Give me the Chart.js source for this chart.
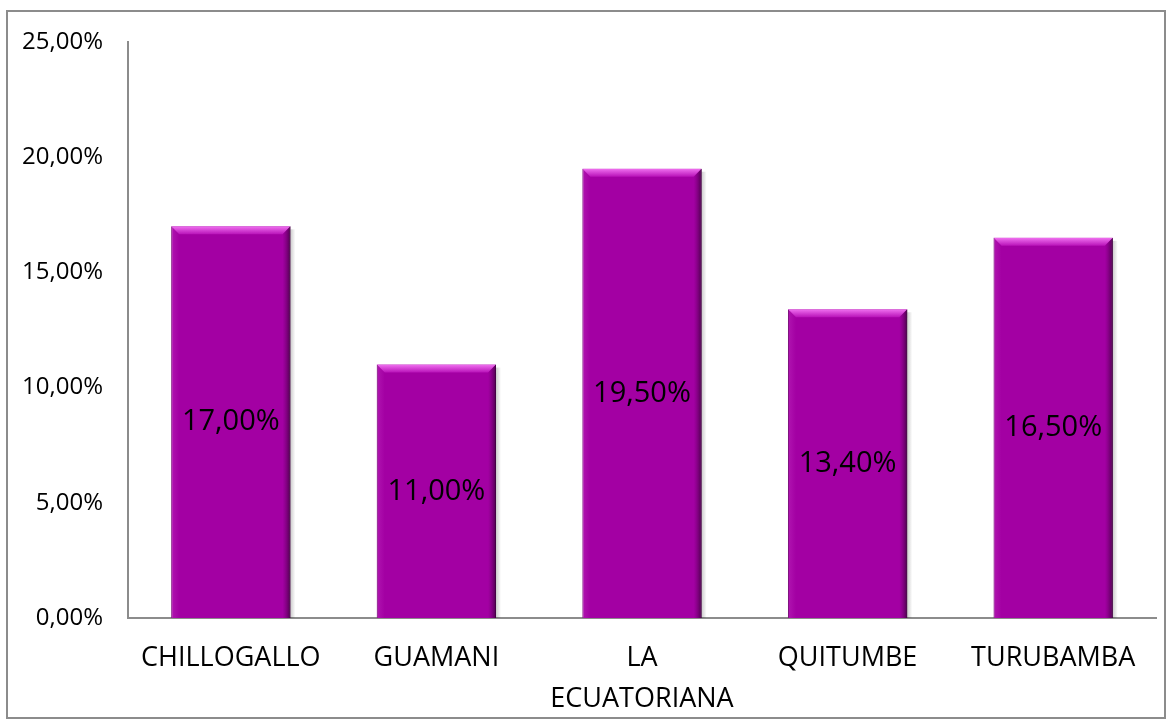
<!DOCTYPE html>
<html>
<head>
<meta charset="utf-8">
<script src="https://cdn.jsdelivr.net/npm/chart.js@4/dist/chart.umd.min.js"></script>
<style>
  html, body { margin: 0; padding: 0; background: #fff; }
  #wrap { width: 1172px; height: 728px; }
</style>
</head>
<body>
<div id="wrap"><canvas id="grafico"></canvas></div>
<script>
// datos del grafico
var categorias = ['CHILLOGALLO', 'GUAMANI', ['LA', 'ECUATORIANA'], 'QUITUMBE', 'TURUBAMBA'];
var porcentajes = [17.00, 11.00, 19.50, 13.40, 16.50];
var marcasY = [0, 5, 10, 15, 20, 25];

function formatoPct(v) {
    return v.toFixed(2).replace('.', ',') + '%';
}

// marco gris alrededor del grafico
var marco = {
    id: 'marco',
    beforeDraw: function (chart) {
        var c = chart.ctx;
        c.save();
        c.fillStyle = '#fff';
        c.fillRect(0, 0, chart.width, chart.height);
        c.strokeStyle = '#8c8c8c';
        c.lineWidth = 2;
        c.strokeRect(7, 11, chart.width - 14, chart.height - 21);
        c.restore();
    }
};

// biselado de las barras + etiquetas de valor
var bisel = {
    id: 'bisel',
    afterDatasetsDraw: function (chart) {
        var c = chart.ctx;
        var meta = chart.getDatasetMeta(0);
        meta.data.forEach(function (bar, i) {
            var p = bar.getProps(['x', 'y', 'base', 'width'], true);
            var l = p.x - p.width / 2, r = p.x + p.width / 2, t = p.y, b = p.base;
            var e = 8;
            c.save();
            // borde superior claro
            var g = c.createLinearGradient(0, t, 0, t + e);
            g.addColorStop(0, '#f070f0');
            g.addColorStop(1, '#b812b8');
            c.fillStyle = g;
            c.beginPath();
            c.moveTo(l, t); c.lineTo(r, t); c.lineTo(r - e, t + e); c.lineTo(l + e, t + e);
            c.closePath(); c.fill();
            // lado izquierdo, apenas mas claro
            var g1 = c.createLinearGradient(l, 0, l + e, 0);
            g1.addColorStop(0, 'rgba(200,60,200,0.35)');
            g1.addColorStop(1, 'rgba(200,60,200,0)');
            c.fillStyle = g1;
            c.beginPath();
            c.moveTo(l, t); c.lineTo(l + e, t + e); c.lineTo(l + e, b); c.lineTo(l, b);
            c.closePath(); c.fill();
            // lado derecho oscuro
            var g2 = c.createLinearGradient(r - e, 0, r, 0);
            g2.addColorStop(0, 'rgba(110,0,110,0)');
            g2.addColorStop(1, 'rgba(60,0,60,0.85)');
            c.fillStyle = g2;
            c.beginPath();
            c.moveTo(r, t); c.lineTo(r, b); c.lineTo(r - e, b); c.lineTo(r - e, t + e);
            c.closePath(); c.fill();
            // sombra a la derecha
            var g3 = c.createLinearGradient(r, 0, r + 5, 0);
            g3.addColorStop(0, 'rgba(0,0,0,0.2)');
            g3.addColorStop(1, 'rgba(0,0,0,0)');
            c.fillStyle = g3;
            c.fillRect(r, t + 3, 5, b - t - 3);
            // etiqueta
            c.fillStyle = '#000';
            c.font = '29px "Open Sans"';
            c.textAlign = 'center';
            c.textBaseline = 'middle';
            c.fillText(formatoPct(porcentajes[i]), p.x, (t + b) / 2);
            c.restore();
        });
    }
};

var ctx = document.getElementById('grafico').getContext('2d');
var chart = new Chart(ctx, {
    type: 'bar',
    data: {
        labels: categorias,
        datasets: [{
            data: porcentajes,
            backgroundColor: '#a300a3',
            borderColor: '#5a005a',
            borderWidth: 1,
            categoryPercentage: 0.58,
            barPercentage: 1
        }]
    },
    options: {
        responsive: true,
        maintainAspectRatio: false,
        animation: false,
        layout: { padding: { left: 0, right: 16, top: 42, bottom: 0 } },
        plugins: {
            legend: { display: false },
            tooltip: { enabled: false }
        },
        scales: {
            x: {
                grid: { display: false, drawTicks: false },
                border: { color: '#8c8c8c', width: 2 },
                ticks: {
                    color: '#000',
                    font: { family: 'Open Sans', size: 27, lineHeight: 1.55 },
                    padding: 19,
                    maxRotation: 0,
                    autoSkip: false
                },
                afterFit: function (s) { s.height = 110; }
            },
            y: {
                min: 0,
                max: 25,
                afterBuildTicks: function (s) {
                    s.ticks = marcasY.map(function (v) { return { value: v }; });
                },
                grid: { display: false, drawTicks: false },
                border: { color: '#8c8c8c', width: 2 },
                ticks: {
                    color: '#000',
                    font: { family: 'Open Sans', size: 24 },
                    padding: 25,
                    callback: function (v) { return formatoPct(v); }
                },
                afterFit: function (s) { s.width = 128; }
            }
        }
    },
    plugins: [marco, bisel]
});
</script>
</body>
</html>
